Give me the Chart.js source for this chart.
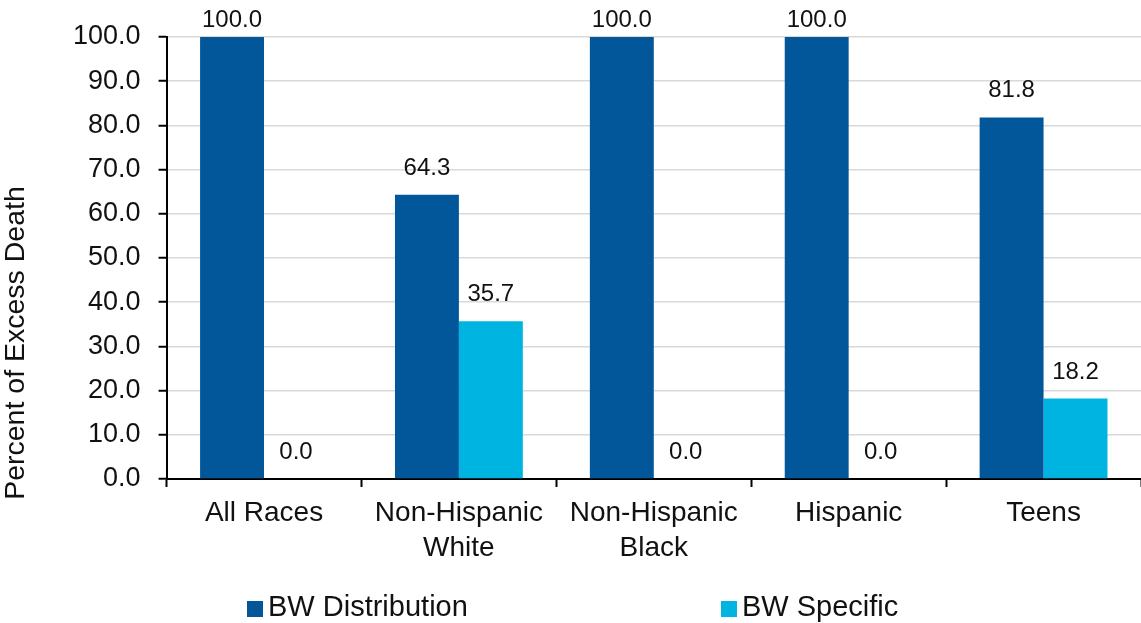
<!DOCTYPE html>
<html lang="en">
<head>
    <meta charset="UTF-8">
    <title>Percent of Excess Death</title>
    <style>
        body {
            margin: 0;
            background: #fff;
            font-family: "Liberation Sans", Arial, sans-serif;
        }
        #wrap {
            width: 1141px;
            height: 623px;
        }
    </style>
    <script src="https://cdn.jsdelivr.net/npm/chart.js"></script>
</head>
<body>
    <div id="wrap"><canvas id="excessChart"></canvas></div>
    <script>
        const groups = ['All Races', ['Non-Hispanic', 'White'], ['Non-Hispanic', 'Black'], 'Hispanic', 'Teens'];
        const bwDistribution = [100.0, 64.3, 100.0, 100.0, 81.8];
        const bwSpecific = [0.0, 35.7, 0.0, 0.0, 18.2];
        const yTitle = 'Percent of Excess Death';

        const FONT = '"Liberation Sans", Arial, sans-serif';
        const INK = '#111';

        // value above every bar, one decimal
        const barValues = {
            id: 'barValues',
            afterDatasetsDraw(chart) {
                const ctx = chart.ctx;
                const top = chart.chartArea.top;
                ctx.save();
                ctx.font = '24px ' + FONT;
                ctx.fillStyle = INK;
                ctx.textAlign = 'center';
                ctx.textBaseline = 'alphabetic';
                chart.data.datasets.forEach((ds, i) => {
                    chart.getDatasetMeta(i).data.forEach((bar, j) => {
                        const y = Math.max(bar.y - 20, top - 10);
                        ctx.fillText(ds.data[j].toFixed(1), bar.x, y);
                    });
                });
                ctx.restore();
            }
        };

        // y axis title, sitting a bit low like the original
        const sideTitle = {
            id: 'sideTitle',
            afterDraw(chart) {
                const ctx = chart.ctx;
                ctx.save();
                ctx.translate(16, 343);
                ctx.rotate(-Math.PI / 2);
                ctx.font = '28.5px ' + FONT;
                ctx.fillStyle = INK;
                ctx.textAlign = 'center';
                ctx.textBaseline = 'middle';
                ctx.fillText(yTitle, 0, 0);
                ctx.restore();
            }
        };

        // widely spaced legend under the axis labels
        const wideLegend = {
            id: 'wideLegend',
            afterDraw(chart) {
                const ctx = chart.ctx;
                const slots = [247, 721];
                ctx.save();
                ctx.font = '29px ' + FONT;
                ctx.textBaseline = 'middle';
                ctx.textAlign = 'left';
                chart.data.datasets.forEach((ds, i) => {
                    const x = slots[i];
                    ctx.fillStyle = ds.backgroundColor;
                    ctx.fillRect(x, 601, 16, 16);
                    ctx.fillStyle = INK;
                    ctx.fillText(ds.label, x + 21, 608);
                });
                ctx.restore();
            }
        };

        const ctx = document.getElementById('excessChart').getContext('2d');
        new Chart(ctx, {
            type: 'bar',
            data: {
                labels: groups,
                datasets: [{
                    label: 'BW Distribution',
                    data: bwDistribution,
                    backgroundColor: '#02579b'
                }, {
                    label: 'BW Specific',
                    data: bwSpecific,
                    backgroundColor: '#00b4e1'
                }]
            },
            options: {
                responsive: true,
                maintainAspectRatio: false,
                animation: false,
                categoryPercentage: 0.656,
                barPercentage: 1.0,
                layout: {
                    padding: { left: 55, right: 0, top: 37, bottom: 48 }
                },
                plugins: {
                    legend: { display: false },
                    tooltip: { enabled: false }
                },
                scales: {
                    x: {
                        border: { color: '#000', width: 2 },
                        grid: {
                            display: true,
                            drawOnChartArea: false,
                            offset: true,
                            tickLength: 8,
                            tickColor: '#000',
                            tickWidth: 2
                        },
                        ticks: {
                            color: INK,
                            padding: 9,
                            maxRotation: 0,
                            autoSkip: false,
                            font: { family: FONT, size: 28, lineHeight: 1.25 }
                        }
                    },
                    y: {
                        min: 0,
                        max: 100,
                        border: { color: '#000', width: 2 },
                        grid: {
                            color: '#d9d9d9',
                            lineWidth: 1.5,
                            tickLength: 8,
                            tickColor: '#000',
                            tickWidth: 2
                        },
                        ticks: {
                            stepSize: 10,
                            color: INK,
                            padding: 18,
                            font: { family: FONT, size: 27 },
                            callback: v => v.toFixed(1)
                        }
                    }
                }
            },
            plugins: [barValues, sideTitle, wideLegend]
        });
    </script>
</body>
</html>
